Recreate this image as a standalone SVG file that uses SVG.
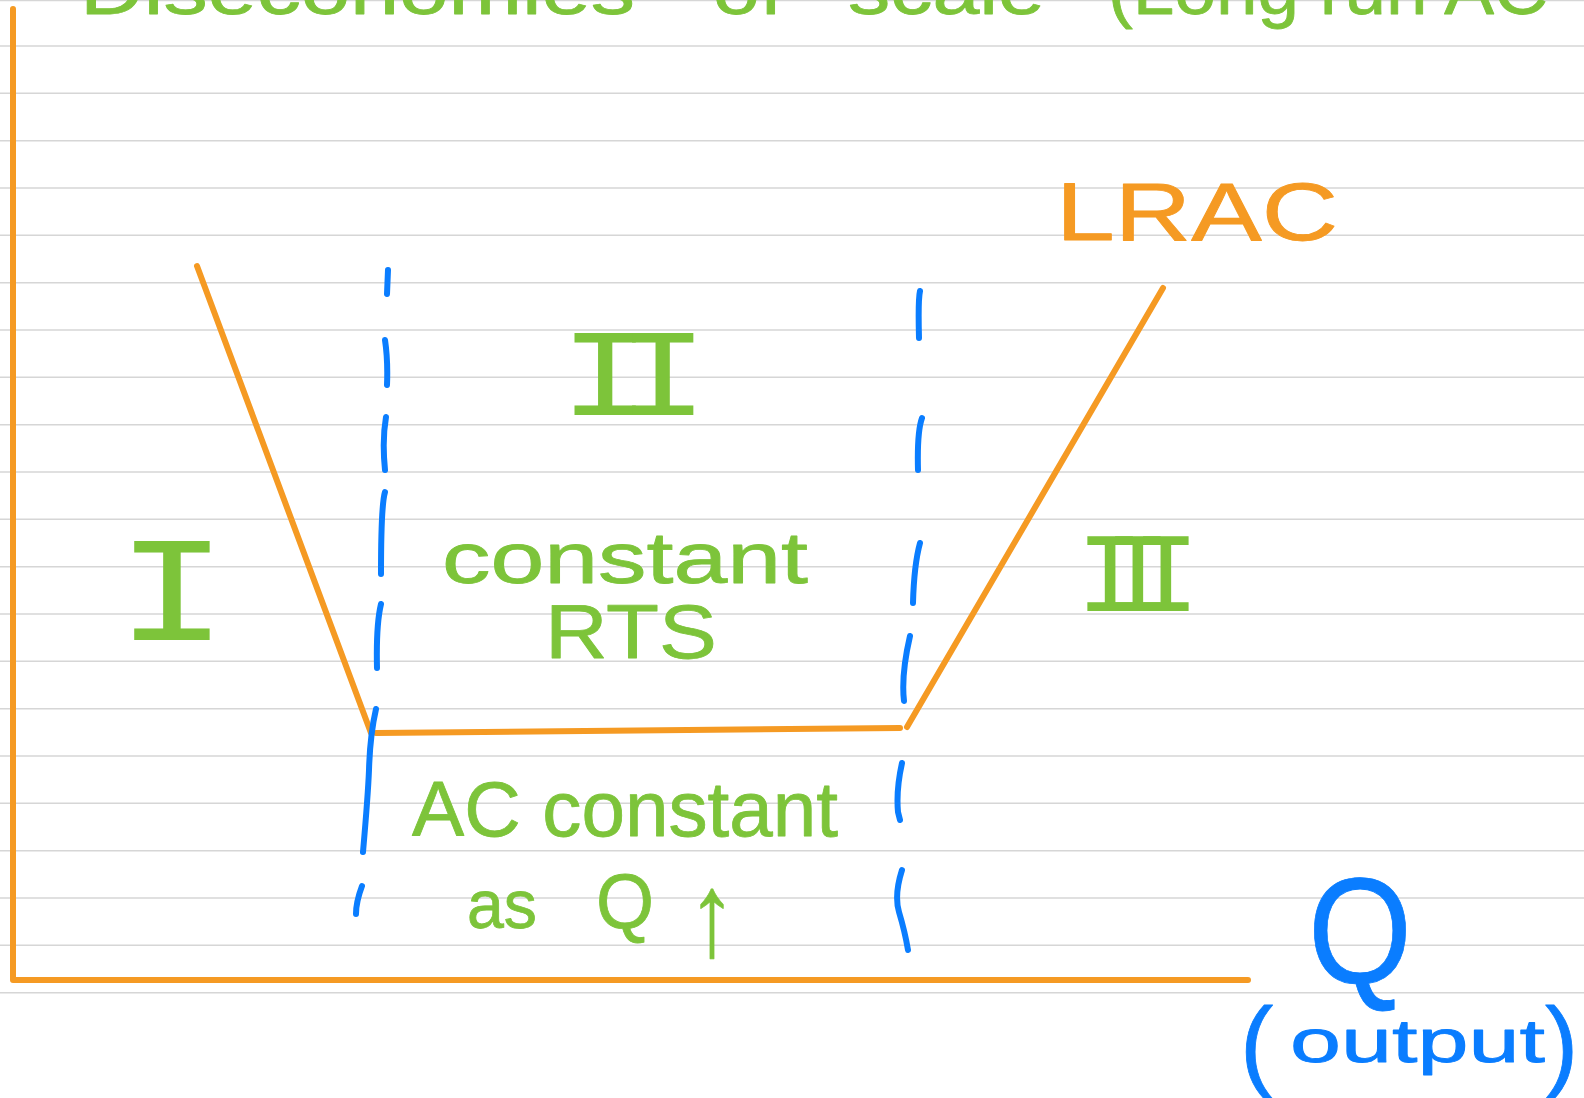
<svg xmlns="http://www.w3.org/2000/svg" width="1584" height="1098" viewBox="0 0 1584 1098">
  <style>
    .rule { stroke: #d6d6d6; stroke-width: 1.6; }
    .orange { stroke: #f59a23; stroke-width: 6; fill: none; stroke-linecap: round; stroke-linejoin: round; }
    .blue { stroke: #0a7dff; stroke-width: 6; fill: none; stroke-linecap: round; stroke-linejoin: round; }
    .hw { font-family: "Liberation Sans", "DejaVu Sans", sans-serif; stroke-width: 0.8; stroke-linejoin: round; }
    .g { fill: #7dc43a; stroke: #7dc43a; }
    .o { fill: #f59a23; stroke: #f59a23; }
    .b { fill: #0a7dff; stroke: #0a7dff; }
    .roman { font-family: "Liberation Mono", "DejaVu Sans Mono", monospace; fill: #7dc43a; text-anchor: middle; }
  </style>

  <rect width="1584" height="1098" fill="#ffffff"/>

  <!-- ruled paper -->
  <g id="rules">
    <line class="rule" x1="0" y1="0.5" x2="1584" y2="0.5"/>
    <line class="rule" x1="0" y1="46" x2="1584" y2="46"/>
    <line class="rule" x1="0" y1="93.3" x2="1584" y2="93.3"/>
    <line class="rule" x1="0" y1="140.7" x2="1584" y2="140.7"/>
    <line class="rule" x1="0" y1="188" x2="1584" y2="188"/>
    <line class="rule" x1="0" y1="235.3" x2="1584" y2="235.3"/>
    <line class="rule" x1="0" y1="282.7" x2="1584" y2="282.7"/>
    <line class="rule" x1="0" y1="330" x2="1584" y2="330"/>
    <line class="rule" x1="0" y1="377.3" x2="1584" y2="377.3"/>
    <line class="rule" x1="0" y1="424.7" x2="1584" y2="424.7"/>
    <line class="rule" x1="0" y1="472" x2="1584" y2="472"/>
    <line class="rule" x1="0" y1="519.3" x2="1584" y2="519.3"/>
    <line class="rule" x1="0" y1="566.7" x2="1584" y2="566.7"/>
    <line class="rule" x1="0" y1="614" x2="1584" y2="614"/>
    <line class="rule" x1="0" y1="661.3" x2="1584" y2="661.3"/>
    <line class="rule" x1="0" y1="708.7" x2="1584" y2="708.7"/>
    <line class="rule" x1="0" y1="756" x2="1584" y2="756"/>
    <line class="rule" x1="0" y1="803.3" x2="1584" y2="803.3"/>
    <line class="rule" x1="0" y1="850.7" x2="1584" y2="850.7"/>
    <line class="rule" x1="0" y1="898" x2="1584" y2="898"/>
    <line class="rule" x1="0" y1="945.3" x2="1584" y2="945.3"/>
    <line class="rule" x1="0" y1="992.7" x2="1584" y2="992.7"/>
  </g>

  <!-- heading, running off the top edge -->
  <g id="title" class="hw g" font-size="70">
    <text x="80" y="14" textLength="555" lengthAdjust="spacingAndGlyphs">Diseconomies</text>
    <text x="713" y="14" textLength="70" lengthAdjust="spacingAndGlyphs">of</text>
    <text x="848" y="14" textLength="197" lengthAdjust="spacingAndGlyphs">scale</text>
    <text x="1108" y="14" textLength="440" lengthAdjust="spacingAndGlyphs">(Long run AC</text>
  </g>

  <!-- axes -->
  <g id="axes">
    <polyline class="orange" points="13,9 13,980 1248,980"/>
  </g>

  <!-- long run average cost curve -->
  <g id="lrac-curve">
    <polyline class="orange" points="197,266 371,733"/>
    <polyline class="orange" points="376,733 900,728"/>
    <polyline class="orange" points="907,727 1163,288"/>
  </g>

  <!-- dashed stage dividers -->
  <g id="dividers">
    <path class="blue" d="M388,270 L387,294 M385,340 Q388,360 387,385 M386,417 Q382,440 385,470 M385,492 Q381,505 381,574 M381,604 Q376,625 377,668 M376,709 Q370,735 369,770 Q368,795 363,852 M362,886 Q356,902 356,914"/>
    <path class="blue" d="M920,291 Q918,300 919,338 M922,418 Q917,432 918,470 M920,543 Q914,565 913,603 M910,636 Q901,675 904,701 M902,763 Q896,790 898,812 L900,820 M902,870 Q894,895 899,912 Q905,932 908,950"/>
  </g>

  <!-- curve label -->
  <g id="label-lrac" class="hw o" font-size="82">
    <text x="1056" y="240" textLength="282" lengthAdjust="spacingAndGlyphs">LRAC</text>
  </g>

  <!-- stage numerals -->
  <g id="stage-1" class="roman" font-size="150" transform="translate(172,0) scale(1.25,1)">
    <text x="0" y="640">I</text>
  </g>
  <g id="stage-2" class="roman" font-size="125" letter-spacing="-28" transform="translate(634,0) scale(1.22,1)">
    <text x="-14" y="415">II</text>
  </g>
  <g id="stage-3" class="roman" font-size="113" letter-spacing="-40">
    <text x="1118" y="611">III</text>
  </g>

  <!-- stage notes -->
  <g id="note-rts" class="hw g">
    <text x="442" y="583" font-size="72" textLength="366" lengthAdjust="spacingAndGlyphs">constant</text>
    <text x="545" y="658" font-size="76" textLength="172" lengthAdjust="spacingAndGlyphs">RTS</text>
  </g>
  <g id="note-ac" class="hw g">
    <text x="412" y="836" font-size="78" textLength="426" lengthAdjust="spacingAndGlyphs">AC constant</text>
    <text x="467" y="928" font-size="68" textLength="70" lengthAdjust="spacingAndGlyphs">as</text>
    <text x="596" y="928" font-size="78" textLength="58" lengthAdjust="spacingAndGlyphs">Q</text>
    <text x="688" y="955" font-size="118" textLength="48" lengthAdjust="spacingAndGlyphs">↑</text>
  </g>

  <!-- horizontal axis label -->
  <g id="label-q" class="hw b">
    <text x="1308" y="983" font-size="150" textLength="104" lengthAdjust="spacingAndGlyphs">Q</text>
    <text x="1240" y="1078" font-size="100">(</text>
    <text x="1290" y="1062" font-size="62" textLength="255" lengthAdjust="spacingAndGlyphs">output</text>
    <text x="1545" y="1078" font-size="100">)</text>
  </g>
</svg>
